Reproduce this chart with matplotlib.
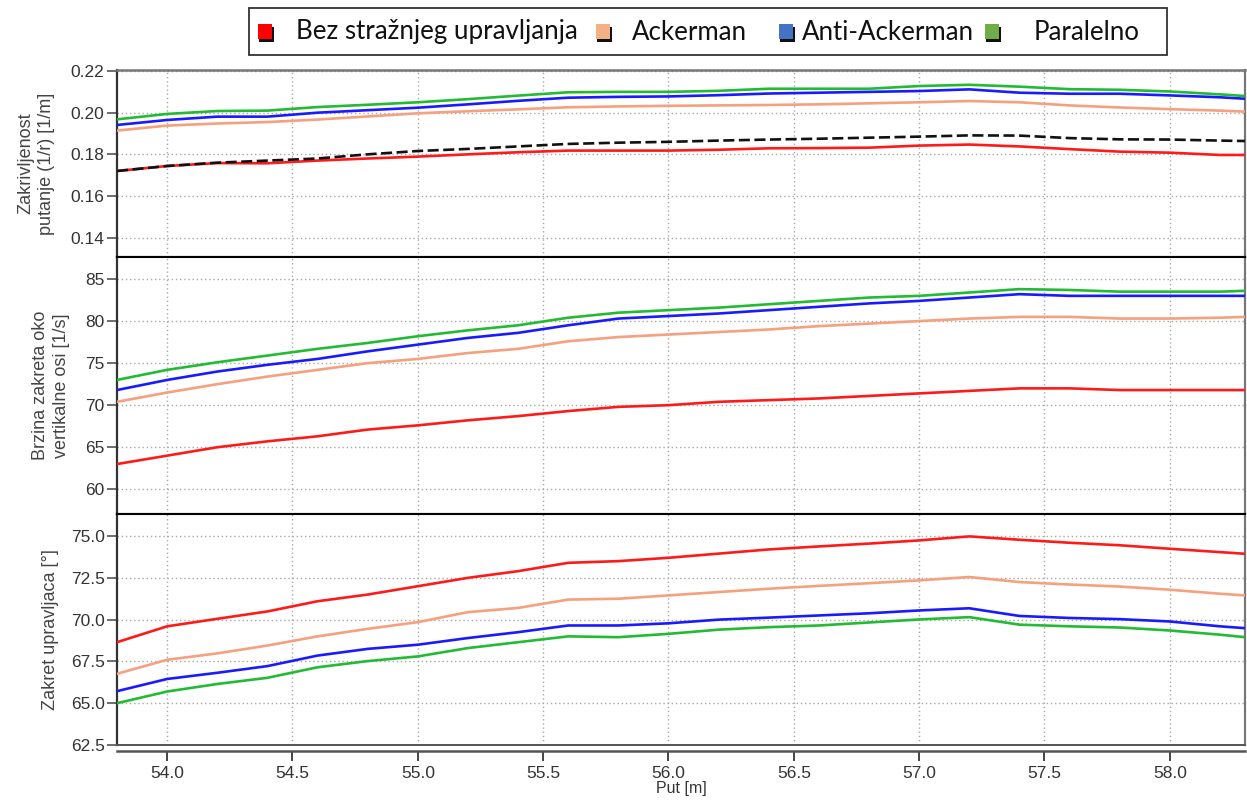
import matplotlib
matplotlib.use('Agg')
import matplotlib.pyplot as plt
from matplotlib.patches import Rectangle
from matplotlib.ticker import FormatStrFormatter

# ---------------- data ----------------
put = [53.8, 54.0, 54.2, 54.4, 54.6, 54.8, 55.0, 55.2, 55.4, 55.6, 55.8, 56.0,
       56.2, 56.4, 56.6, 56.8, 57.0, 57.2, 57.4, 57.6, 57.8, 58.0, 58.2, 58.3]

series_names = ["Bez stražnjeg upravljanja", "Ackerman", "Anti-Ackerman", "Paralelno"]

# Panel 1: Zakrivljenost putanje (1/r) [1/m]
kurv_bez = [0.1720, 0.1744, 0.1758, 0.1757, 0.1770, 0.1780, 0.1789, 0.1800, 0.1810, 0.1818, 0.1818, 0.1818,
            0.1822, 0.1829, 0.1830, 0.1832, 0.1842, 0.1847, 0.1838, 0.1825, 0.1813, 0.1808, 0.1797, 0.1797]
kurv_ack = [0.1914, 0.1938, 0.1948, 0.1955, 0.1967, 0.1982, 0.1997, 0.2007, 0.2016, 0.2026, 0.2030, 0.2033,
            0.2035, 0.2037, 0.2040, 0.2045, 0.2050, 0.2056, 0.2050, 0.2035, 0.2025, 0.2017, 0.2010, 0.2005]
kurv_anti = [0.1941, 0.1965, 0.1981, 0.1981, 0.2000, 0.2012, 0.2024, 0.2040, 0.2057, 0.2072, 0.2076, 0.2078,
             0.2084, 0.2092, 0.2096, 0.2100, 0.2104, 0.2112, 0.2096, 0.2091, 0.2091, 0.2083, 0.2074, 0.2067]
kurv_par = [0.1968, 0.1994, 0.2008, 0.2010, 0.2027, 0.2038, 0.2050, 0.2065, 0.2082, 0.2098, 0.2100, 0.2100,
            0.2105, 0.2115, 0.2115, 0.2115, 0.2128, 0.2134, 0.2125, 0.2113, 0.2110, 0.2102, 0.2088, 0.2080]
kurv_ref = [0.1720, 0.1744, 0.1760, 0.1770, 0.1780, 0.1800, 0.1816, 0.1826, 0.1838, 0.1850, 0.1856, 0.1860,
            0.1866, 0.1871, 0.1875, 0.1880, 0.1885, 0.1891, 0.1890, 0.1878, 0.1872, 0.1871, 0.1866, 0.1864]

# Panel 2: Brzina zakreta oko vertikalne osi [1/s]
yaw_bez = [63.0, 64.0, 65.0, 65.7, 66.3, 67.1, 67.6, 68.2, 68.7, 69.3, 69.8, 70.0,
           70.4, 70.6, 70.8, 71.1, 71.4, 71.7, 72.0, 72.0, 71.8, 71.8, 71.8, 71.8]
yaw_ack = [70.4, 71.5, 72.5, 73.4, 74.2, 75.0, 75.5, 76.2, 76.7, 77.6, 78.1, 78.4,
           78.7, 79.0, 79.4, 79.7, 80.0, 80.3, 80.5, 80.5, 80.3, 80.3, 80.4, 80.5]
yaw_anti = [71.8, 73.0, 74.0, 74.8, 75.5, 76.4, 77.2, 78.0, 78.6, 79.5, 80.3, 80.6,
            80.9, 81.3, 81.7, 82.1, 82.4, 82.8, 83.2, 83.0, 83.0, 83.0, 83.0, 83.0]
yaw_par = [73.0, 74.2, 75.1, 75.9, 76.7, 77.4, 78.2, 78.9, 79.5, 80.4, 81.0, 81.3,
           81.6, 82.0, 82.4, 82.8, 83.0, 83.4, 83.8, 83.7, 83.5, 83.5, 83.5, 83.6]

# Panel 3: Zakret upravljaca [°]
steer_bez = [68.65, 69.6, 70.05, 70.49, 71.1, 71.5, 72.0, 72.5, 72.9, 73.4, 73.5, 73.7,
             73.95, 74.2, 74.38, 74.55, 74.74, 74.98, 74.78, 74.6, 74.45, 74.24, 74.04, 73.94]
steer_ack = [66.76, 67.6, 67.98, 68.45, 69.0, 69.45, 69.85, 70.45, 70.7, 71.2, 71.25, 71.45,
             71.65, 71.85, 72.02, 72.18, 72.35, 72.55, 72.25, 72.1, 71.98, 71.79, 71.55, 71.45]
steer_anti = [65.72, 66.45, 66.82, 67.22, 67.85, 68.25, 68.5, 68.9, 69.25, 69.65, 69.65, 69.78,
              70.0, 70.12, 70.25, 70.38, 70.55, 70.68, 70.22, 70.1, 70.03, 69.89, 69.6, 69.49]
steer_par = [65.0, 65.7, 66.15, 66.52, 67.15, 67.52, 67.8, 68.3, 68.65, 69.0, 68.95, 69.15,
             69.4, 69.55, 69.65, 69.83, 70.01, 70.15, 69.7, 69.6, 69.53, 69.35, 69.1, 68.95]

x_ticks = [54.0, 54.5, 55.0, 55.5, 56.0, 56.5, 57.0, 57.5, 58.0]
y_labels = ["Zakrivljenost\nputanje (1/r) [1/m]",
            "Brzina zakreta oko\nvertikalne osi [1/s]",
            "Zakret upravljaca [°]"]
x_label = "Put [m]"

# ---------------- style ----------------
line_colors = ["#ff1a1a", "#f5a07e", "#1a1aff", "#22bb33"]
swatch_colors = ["#ff0000", "#f4b183", "#4472c4", "#70ad47"]
LW = 1.9
W, H = 1247, 802

plt.rcParams['font.family'] = ['Liberation Sans', 'DejaVu Sans']
fig = plt.figure(figsize=(W / 100, H / 100), dpi=100)


def fx(px):
    return px / W


def fy(py):
    return 1 - py / H


left, right = 117, 1245
bounds = [(70, 257), (257, 513.5), (513.5, 745)]
axes = []
for (t, b) in bounds:
    ax = fig.add_axes([fx(left), fy(b), fx(right - left), (b - t) / H],
                      sharex=axes[0] if axes else None)
    axes.append(ax)

ax1, ax2, ax3 = axes

panels = [
    (ax1, [kurv_bez, kurv_ack, kurv_anti, kurv_par]),
    (ax2, [yaw_bez, yaw_ack, yaw_anti, yaw_par]),
    (ax3, [steer_bez, steer_ack, steer_anti, steer_par]),
]
for ax, data in panels:
    for vals, c in zip(data, line_colors):
        ax.plot(put, vals, color=c, lw=LW, solid_joinstyle='miter', zorder=3)

ax1.plot(put, kurv_ref, color='#111111', lw=1.9, dashes=(4.2, 1.7), zorder=4)

ax1.set_ylim(0.1307, 0.2205)
ax1.set_yticks([0.14, 0.16, 0.18, 0.20, 0.22])
ax1.yaxis.set_major_formatter(FormatStrFormatter('%.2f'))
ax2.set_ylim(57.12, 87.62)
ax2.set_yticks([60, 65, 70, 75, 80, 85])
ax3.set_ylim(62.5, 76.35)
ax3.set_yticks([62.5, 65.0, 67.5, 70.0, 72.5, 75.0])
ax3.yaxis.set_major_formatter(FormatStrFormatter('%.1f'))
ax3.set_xlim(53.8, 58.3)
ax3.set_xticks(x_ticks)
ax3.xaxis.set_major_formatter(FormatStrFormatter('%.1f'))

label_x = [-0.055, -0.0415, -0.051]
for i, ax in enumerate(axes):
    ax.grid(True, which='major', color='#a8a8a8', linestyle=(0, (1, 2)), linewidth=1.0, zorder=0)
    ax.set_axisbelow(True)
    ax.tick_params(axis='y', direction='out', length=7, width=1.2, color='#555555',
                   labelsize=12.5, labelcolor='#333333', pad=2)
    ax.set_ylabel(y_labels[i], fontsize=13, color='#444444', linespacing=1.3)
    ax.yaxis.set_label_coords(label_x[i], 0.5)
    ax.spines['right'].set_color('#777777')
    ax.spines['right'].set_linewidth(1.6)
    ax.spines['left'].set_color('#333333')
    ax.spines['left'].set_linewidth(1.6)
    ax.spines['bottom'].set_color('#000000')
    ax.spines['bottom'].set_linewidth(1.5)
    if i == 0:
        ax.spines['top'].set_color('#777777')
        ax.spines['top'].set_linewidth(1.8)
    else:
        ax.spines['top'].set_color('#000000')
        ax.spines['top'].set_linewidth(1.5)

for ax in (ax1, ax2):
    ax.tick_params(axis='x', which='both', length=0, labelbottom=False)

# bottom axis: offset spine giving the double-line look
ax3.spines['bottom'].set_position(('outward', 4))
ax3.spines['bottom'].set_color('#555555')
ax3.spines['bottom'].set_linewidth(1.8)
ax3.plot([0, 1], [0, 0], transform=ax3.transAxes, color='#555555', lw=1.4,
         clip_on=False, zorder=5)
ax3.tick_params(axis='x', direction='out', length=7, width=1.4, color='#444444',
                labelsize=12.5, labelcolor='#333333', pad=4)
ax3.set_xlabel(x_label, fontsize=11.5, color='#333333', labelpad=0)

# ---------------- legend (manual, figure coordinates) ----------------
box_l, box_t, box_r, box_b = 249, 8, 1167, 55
fig.add_artist(Rectangle((fx(box_l), fy(box_b)), fx(box_r - box_l), (box_b - box_t) / H,
                         transform=fig.transFigure, facecolor='white',
                         edgecolor='#333333', lw=1.3))
sw_x = [258, 596, 779, 985]
tx_x = [296, 632, 802, 1034]
sw = 15
cy = 32
for sx, tx, c, name in zip(sw_x, tx_x, swatch_colors, series_names):
    fig.add_artist(Rectangle((fx(sx + 1), fy(cy + sw / 2 + 2)), fx(sw), sw / H,
                             transform=fig.transFigure, facecolor='#111111', edgecolor='none'))
    fig.add_artist(Rectangle((fx(sx), fy(cy + sw / 2 - 1)), fx(sw - 1), (sw - 1) / H,
                             transform=fig.transFigure, facecolor=c, edgecolor='none'))
    fig.text(fx(tx), fy(cy), name, fontsize=18.6, family=['Lato', 'DejaVu Sans'],
             va='center', ha='left', color='#111111')

fig.savefig('out.png', dpi=100)
